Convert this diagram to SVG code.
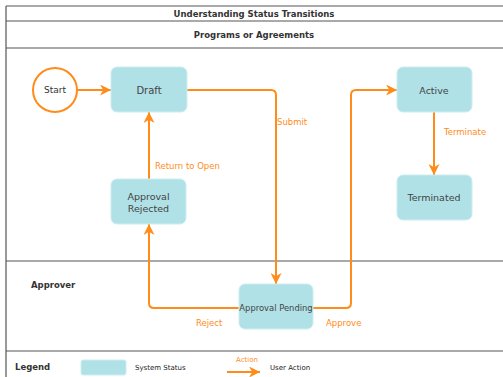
<svg xmlns="http://www.w3.org/2000/svg" width="503" height="377" viewBox="0 0 503 377">
<defs>
<style>
.frame{stroke:#555;stroke-width:1.2;fill:none}
.node{fill:#b0e1e6;stroke:#cdeef0;stroke-width:1}
.nt{font-family:"DejaVu Sans",Verdana,sans-serif;font-size:9.5px;fill:#444;text-anchor:middle}
.hd{font-family:"DejaVu Sans",Verdana,sans-serif;font-size:8.5px;font-weight:bold;fill:#333;text-anchor:middle}
.lane{font-family:"DejaVu Sans",Verdana,sans-serif;font-size:8.5px;font-weight:bold;fill:#333}
.lbl{font-family:"DejaVu Sans",Verdana,sans-serif;font-size:8.5px;fill:#ff8c1a}
.sm{font-family:"DejaVu Sans",Verdana,sans-serif;font-size:7px;fill:#222}
.edge{stroke:#ff8c1a;stroke-width:2;fill:none}
</style>
<marker id="ah" viewBox="0 0 10 10" refX="10" refY="5" markerWidth="5.5" markerHeight="5.5" orient="auto" markerUnits="strokeWidth">
<path d="M0,0 L10,5 L0,10 L3,5 z" fill="#ff8c1a"/>
</marker>
</defs>
<rect width="503" height="377" fill="#fff"/>
<g id="frame">
<line class="frame" x1="6" y1="6" x2="503" y2="6"/>
<line class="frame" x1="6" y1="6" x2="6" y2="377"/>
<line class="frame" x1="6" y1="21" x2="503" y2="21"/>
<line class="frame" x1="6" y1="48" x2="503" y2="48"/>
<line class="frame" x1="6" y1="261" x2="503" y2="261"/>
<line class="frame" x1="6" y1="351" x2="503" y2="351"/>
<text class="hd" x="254" y="17">Understanding Status Transitions</text>
<text class="hd" x="254" y="38">Programs or Agreements</text>
<text class="lane" x="31" y="288">Approver</text>
</g>
<g id="connectors">
<line class="edge" x1="77" y1="90" x2="111" y2="90" marker-end="url(#ah)"/>
<path class="edge" d="M187,90 H271 Q276,90 276,95 V284" marker-end="url(#ah)"/>
<path class="edge" d="M313,308 H346 Q351,308 351,303 V95 Q351,90 356,90 H397" marker-end="url(#ah)"/>
<path class="edge" d="M239,308 H154 Q149,308 149,303 V224" marker-end="url(#ah)"/>
<line class="edge" x1="149" y1="179" x2="149" y2="112" marker-end="url(#ah)"/>
<line class="edge" x1="434" y1="112" x2="434" y2="175" marker-end="url(#ah)"/>
<text class="lbl" x="277" y="125">Submit</text>
<text class="lbl" x="155" y="169">Return to Open</text>
<text class="lbl" x="444" y="135">Terminate</text>
<text class="lbl" x="196" y="326">Reject</text>
<text class="lbl" x="326" y="326">Approve</text>
</g>
<g id="start">
<circle cx="55" cy="90" r="22" fill="#fff" stroke="#ff8c1a" stroke-width="2"/>
<text class="nt" x="55" y="93" style="fill:#333;font-size:9px">Start</text>
</g>
<g id="draft">
<rect class="node" x="111" y="67" width="76" height="45" rx="6"/>
<text class="nt" x="149" y="93.5" style="font-size:10px">Draft</text>
</g>
<g id="approval-rejected">
<rect class="node" x="111" y="179" width="75" height="45" rx="6"/>
<text class="nt" x="148.5" y="200">Approval</text>
<text class="nt" x="148.5" y="211.5">Rejected</text>
</g>
<g id="active">
<rect class="node" x="397" y="67" width="75" height="45" rx="6"/>
<text class="nt" x="434" y="94">Active</text>
</g>
<g id="terminated">
<rect class="node" x="397" y="175" width="75" height="45" rx="6"/>
<text class="nt" x="434" y="201">Terminated</text>
</g>
<g id="approval-pending">
<rect class="node" x="239" y="284" width="74" height="45" rx="6"/>
<text class="nt" x="276" y="311" style="font-size:8.4px">Approval Pending</text>
</g>
<g id="legend">
<text class="lane" x="15" y="370">Legend</text>
<rect class="node" x="81" y="360" width="45" height="15" rx="2"/>
<text class="sm" x="135" y="370">System Status</text>
<text class="sm" x="236" y="362" style="fill:#ff8c1a">Action</text>
<line class="edge" x1="227" y1="372" x2="260" y2="372" marker-end="url(#ah)"/>
<text class="sm" x="270" y="370">User Action</text>
</g>
</svg>
